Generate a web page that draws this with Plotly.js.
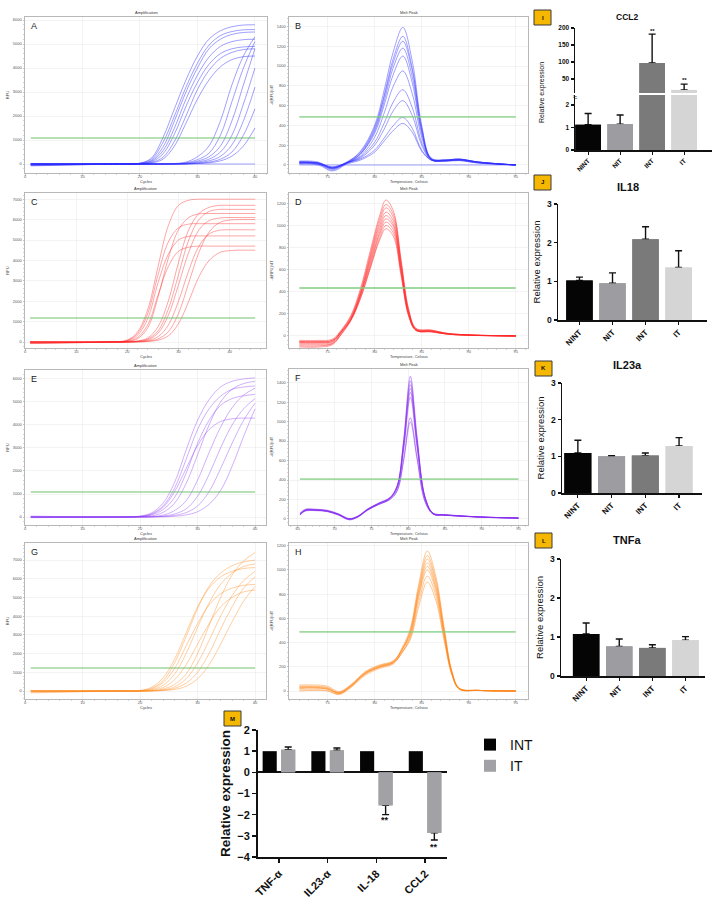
<!DOCTYPE html>
<html><head><meta charset="utf-8">
<script src="https://cdn.plot.ly/plotly-3.0.1.min.js"></script>
<style>html,body{margin:0;padding:0;background:#fff}#chart{width:719px;height:899px}</style>
</head><body><div id="chart"></div>
<script>
// ================= DATA =================
// A: amplification (blue)
const ampA_cycles = [1,16,20,22,24,26,28,30,32,34,36,38,40];
const ampA_rfu = [
 [-60,0,40,250,1100,2300,3500,4500,5200,5550,5720,5790,5800],
 [0,0,30,200,900,2000,3200,4200,4950,5350,5520,5590,5600],
 [-30,0,20,150,700,1800,3000,4000,4800,5200,5400,5480,5500],
 [0,0,20,120,550,1500,2700,3700,4450,4900,5100,5180,5200],
 [-80,0,10,90,420,1250,2400,3400,4150,4600,4800,4880,4900],
 [0,0,10,60,280,950,2000,3100,3900,4400,4650,4770,4800],
 [0,0,0,40,200,750,1700,2700,3500,4050,4350,4470,4500],
 [0,0,0,0,0,20,80,300,750,1800,3300,4500,5300],
 [0,0,0,0,0,10,50,180,450,1200,2600,4000,5100],
 [-50,0,0,0,0,0,30,120,300,750,1800,3300,4800],
 [0,0,0,0,0,0,20,80,200,500,1200,2500,4000],
 [0,0,0,0,0,0,10,50,130,320,800,1800,3200],
 [0,0,0,0,0,0,0,30,80,200,500,1200,2300],
 [0,0,0,0,0,0,0,20,50,130,330,750,1500],
 [0,0,0,0,0,0,0,0,0,0,0,0,0]
];
const ampA_threshold = 1083;

// B: melt peak (blue)
const meltB_temp = [72,74,75.5,77,78.5,80,81,82,83,84,85,86,87.5,89,91,95];
const meltB_drfu = [
 [20,10,-50,20,140,400,750,1150,1390,1050,400,70,50,60,30,0],
 [40,30,-30,30,130,380,700,1080,1300,980,380,70,50,60,30,0],
 [30,20,-40,20,120,360,680,1040,1250,950,360,60,50,60,30,0],
 [10,0,-60,10,110,340,640,990,1180,890,340,60,50,55,30,0],
 [30,20,-30,20,110,320,600,920,1100,830,320,60,45,55,30,0],
 [20,10,-40,20,90,280,520,800,950,720,280,55,45,55,25,0],
 [30,20,-20,20,80,230,420,640,760,580,230,55,40,50,25,0],
 [20,20,-30,20,70,200,360,550,650,500,200,50,40,50,25,0],
 [30,20,-20,20,60,150,270,400,480,370,150,50,40,45,20,0],
 [20,10,-30,10,50,130,240,350,420,330,140,50,40,45,20,0],
 [0,0,0,0,0,0,0,0,0,0,0,0,0,0,0,0]
];
const meltB_threshold = 485;

// C: amplification (red)
const ampC_cycles = [1,16,20,22,24,26,28,30,32,34,36,38,40,42,45];
const ampC_rfu = [
 [0,0,100,500,1600,3700,5700,6700,6950,7000,7000,7000,7000,7000,7000],
 [-50,0,80,420,1400,3300,4900,5600,5780,5800,5800,5800,5800,5800,5800],
 [0,0,60,330,1150,2900,4300,5000,5180,5200,5200,5200,5200,5200,5200],
 [-80,0,40,220,850,2300,3700,4450,4650,4700,4700,4700,4700,4700,4700],
 [0,0,30,160,700,2200,4100,5500,6100,6280,6300,6300,6300,6300,6300],
 [0,0,10,50,200,750,2000,3900,5500,6300,6600,6700,6700,6700,6700],
 [0,0,0,40,150,550,1600,3300,5000,6000,6400,6500,6500,6500,6500],
 [-60,0,0,30,110,430,1300,2800,4400,5500,5950,6080,6100,6100,6100],
 [0,0,0,20,70,260,820,2000,3500,4700,5300,5480,5500,5500,5500],
 [0,0,0,10,40,150,500,1400,2900,4400,5400,5850,5980,6000,6000],
 [0,0,0,0,25,90,300,900,2000,3200,4000,4380,4480,4500,4500]
];
const ampC_threshold = 1180;

// D: melt peak (red)
const meltD_temp = [72,74,75.5,76.5,77.5,78.5,79.5,80.5,81.2,82,82.8,83.6,84.4,86,88,95];
const meltD_drfu = [
 [-40,-40,-30,60,190,430,760,1080,1230,1130,700,250,70,55,20,0],
 [-60,-60,-50,50,180,410,730,1050,1190,1100,680,240,65,50,20,0],
 [-80,-80,-70,30,160,390,710,1020,1160,1070,660,230,60,50,20,0],
 [-50,-50,-40,50,170,390,690,990,1120,1040,640,220,60,45,20,0],
 [-100,-100,-80,20,150,370,670,960,1090,1010,620,210,55,45,15,0],
 [-70,-70,-60,40,160,370,650,930,1060,990,600,200,55,40,15,0],
 [-60,-60,-50,40,150,360,630,910,1030,960,590,200,50,40,15,0],
 [-90,-90,-70,20,140,340,610,880,1000,930,570,190,50,40,15,0],
 [-50,-50,-40,40,150,340,600,860,970,900,550,180,50,35,15,0]
];
const meltD_threshold = 434;

// E: amplification (purple)
const ampE_cycles = [1,16,20,22,24,26,28,30,32,34,36,38,40];
const ampE_rfu = [
 [40,0,40,180,600,1500,2900,4200,5100,5650,5900,6000,6050],
 [0,0,30,140,480,1250,2500,3800,4700,5250,5550,5650,5700],
 [-30,0,20,120,420,1100,2100,3100,3800,4150,4270,4300,4300],
 [0,0,20,90,320,850,1900,3200,4200,4850,5150,5270,5330],
 [0,0,10,50,200,600,1450,2700,4000,5000,5550,5800,5900],
 [0,0,0,20,80,280,700,1600,2800,3900,4750,5300,5600],
 [0,0,0,10,40,130,350,900,1850,3000,4000,4700,5150],
 [0,0,0,0,20,70,190,480,1100,2100,3200,4200,4950],
 [0,0,0,0,10,30,90,230,550,1150,2200,3500,4700]
];
const ampE_threshold = 1087;

// F: melt peak (purple)
const meltF_temp = [65.3,66,67.5,69,70.5,72,73.2,74.5,76,77.5,78.5,79.4,80.3,81.2,82.3,83.4,85,90,95];
const meltF_drfu = [
 [40,90,95,85,50,0,30,100,160,215,340,820,1466,860,230,60,45,20,10],
 [60,100,100,90,55,5,30,105,165,220,340,800,1420,830,220,60,45,20,10],
 [50,85,90,80,45,-5,25,95,155,210,330,780,1380,810,220,55,40,20,10],
 [45,95,95,85,50,0,30,100,160,215,330,760,1340,790,215,55,40,20,10],
 [55,90,92,82,48,0,28,98,158,212,320,740,1300,770,210,55,40,20,10],
 [40,80,85,75,40,-10,20,90,150,205,310,710,1250,740,200,50,40,18,8],
 [50,90,90,80,45,0,25,95,150,200,290,620,1040,640,180,50,40,18,8],
 [45,85,88,78,42,-5,22,92,148,198,285,600,995,620,175,50,38,18,8]
];
const meltF_threshold = 410;

// G: amplification (orange)
const ampG_cycles = [1,16,20,22,24,26,28,30,32,34,36,38,40];
const ampG_rfu = [
 [-100,0,30,200,700,1700,3100,4500,5500,6100,6400,6550,6600],
 [0,0,20,150,550,1500,2900,4400,5600,6300,6700,6900,7000],
 [-60,0,10,110,450,1200,2400,3600,4600,5200,5500,5650,5700],
 [0,0,0,70,300,900,2000,3400,4700,5700,6300,6650,6800],
 [0,0,0,40,180,600,1400,2500,3600,4500,5000,5300,5400],
 [0,0,0,20,100,350,900,2000,3500,5000,6200,6950,7400],
 [0,0,0,10,60,220,650,1500,2700,4000,5100,5900,6400],
 [0,0,0,0,40,140,420,1000,2000,3300,4500,5500,6100],
 [0,0,0,0,20,80,250,650,1400,2500,3700,4800,5600]
];
const ampG_threshold = 1230;

// H: melt peak (orange)
const meltH_temp = [72,73.5,75,76.2,77.5,79,80.5,82,83,83.8,84.7,85.6,86.5,87.4,88.2,89,91,95];
const meltH_drfu = [
 [30,30,20,-15,45,150,205,245,370,520,890,1157,950,520,170,25,5,0],
 [10,10,5,-25,35,140,195,235,355,500,860,1120,920,500,160,20,5,0],
 [40,40,30,-10,50,155,210,245,360,495,840,1090,900,490,160,20,5,0],
 [20,25,15,-20,40,145,200,240,350,480,820,1060,870,475,155,20,5,0],
 [50,50,40,-5,55,160,215,250,350,470,800,1030,850,465,150,20,5,0],
 [0,5,0,-30,30,130,185,225,330,455,780,1000,825,450,145,15,5,0],
 [25,25,15,-20,40,140,195,230,330,440,740,950,790,430,140,15,5,0],
 [35,35,25,-15,45,150,200,235,325,425,700,900,750,410,135,15,5,0]
];
const meltH_threshold = 488;

// Bar panels I-L
const groups = ['NINT','NIT','INT','IT'];
const ccl2_mean = [1.12, 1.15, 97, 18];
const ccl2_sd   = [0.50, 0.40, 85, 17];
const il18_mean = [1.02, 0.95, 2.09, 1.36];
const il18_sd   = [0.09, 0.27, 0.32, 0.43];
const il23a_mean = [1.09, 1.00, 1.02, 1.28];
const il23a_sd   = [0.35, 0.02, 0.07, 0.23];
const tnfa_mean = [1.08, 0.76, 0.72, 0.92];
const tnfa_sd   = [0.28, 0.19, 0.08, 0.09];

// Panel M
const genes = ['TNF-α','IL23-α','IL-18','CCL2'];
const int_expr = [1, 1, 1, 1];
const it_expr  = [1.07, 1.04, -1.56, -2.86];
const it_sd    = [0.13, 0.11, 0.44, 0.34];

// ================= BUILD =================
const W = 719, H = 899;
const X = p => p / W;
const Y = p => 1 - p / H;
const FONT = 'Arial, "Liberation Sans", sans-serif';
const NARROW = '"Liberation Sans Narrow", "Arial Narrow", Arial, "Liberation Sans", sans-serif';

const traces = [];
const layout = {
  width: W, height: H, margin: {l:0, r:0, t:0, b:0},
  paper_bgcolor: '#fff', plot_bgcolor: 'rgba(0,0,0,0)',
  font: {family: FONT, color: '#111'},
  barmode: 'overlay', hovermode: false, showlegend: true,
  legend: {x: X(470), y: Y(729), xanchor: 'left', yanchor: 'top',
           font: {size: 14, family: FONT, color: '#111'}, bgcolor: 'rgba(0,0,0,0)',
           itemwidth: 30, tracegroupgap: 2},
  annotations: [], shapes: []
};

function ann(text, px, py, opts) {
  layout.annotations.push(Object.assign({text, x: X(px), y: Y(py), xref: 'paper', yref: 'paper',
    showarrow: false, xanchor: 'center', yanchor: 'middle'}, opts || {}));
}
const axKey = (c, n) => n === 1 ? c + 'axis' : c + 'axis' + n;
const axRef = (c, n) => n === 1 ? c : c + n;

const qpcr = [
  {n:1, L:'A', kind:'amp',  xs:ampA_cycles, ys:ampA_rfu, thr:ampA_threshold, col:'rgba(45,45,255,0.5)',
   xd:[25,267], yd:[17,173], xr:[0,42.1], yr:[-375,6125], ydt:1000},
  {n:2, L:'B', kind:'melt', xs:meltB_temp, ys:meltB_drfu, thr:meltB_threshold, col:'rgba(45,45,255,0.5)',
   xd:[289,528], yd:[17,173], xr:[70.9,96.3], yr:[-81,1495], ydt:200},
  {n:3, L:'C', kind:'amp',  xs:ampC_cycles, ys:ampC_rfu, thr:ampC_threshold, col:'rgba(255,35,35,0.45)',
   xd:[25,266], yd:[193,348], xr:[0,47.1], yr:[-294,7304], ydt:1000},
  {n:4, L:'D', kind:'melt', xs:meltD_temp, ys:meltD_drfu, thr:meltD_threshold, col:'rgba(255,35,35,0.5)',
   xd:[289,528], yd:[193,348], xr:[70.9,96.3], yr:[-109,1294], ydt:200},
  {n:5, L:'E', kind:'amp',  xs:ampE_cycles, ys:ampE_rfu, thr:ampE_threshold, col:'rgba(140,60,245,0.45)',
   xd:[25,266], yd:[370,525], xr:[0,41.9], yr:[-348,6391], ydt:1000},
  {n:6, L:'F', kind:'melt', xs:meltF_temp, ys:meltF_drfu, thr:meltF_threshold, col:'rgba(130,40,240,0.5)',
   xd:[289,528], yd:[369,525], xr:[63.8,96.3], yr:[-62,1540], ydt:200},
  {n:7, L:'G', kind:'amp',  xs:ampG_cycles, ys:ampG_rfu, thr:ampG_threshold, col:'rgba(255,135,25,0.45)',
   xd:[25,266], yd:[543,699], xr:[0,41.9], yr:[-428,7914], ydt:1000},
  {n:8, L:'H', kind:'melt', xs:meltH_temp, ys:meltH_drfu, thr:meltH_threshold, col:'rgba(255,130,20,0.5)',
   xd:[289,528], yd:[543,699], xr:[70.9,96.3], yr:[-66,1223], ydt:200}
];

qpcr.forEach(p => {
  const amp = p.kind === 'amp';
  const common = {showline: true, mirror: true, linecolor: '#b8b8b8', linewidth: 1,
    ticks: 'outside', ticklen: 1.5, tickwidth: 0.6, tickcolor: '#999',
    tickfont: {size: 4, color: '#555', family: FONT}, showgrid: true, gridcolor: '#ebebeb', gridwidth: 0.6,
    zeroline: false};
  layout[axKey('x', p.n)] = Object.assign({}, common, {
    domain: [X(p.xd[0]), X(p.xd[1])], range: p.xr, anchor: axRef('y', p.n),
    tick0: 0, dtick: amp ? 10 : 5, ticklabelstandoff: -2,
    minor: {ticks: 'outside', ticklen: 1, tickwidth: 0.5, tickcolor: '#aaa', dtick: amp ? 2 : 1, showgrid: false}
  });
  layout[axKey('y', p.n)] = Object.assign({}, common, {
    domain: [Y(p.yd[1]), Y(p.yd[0])], range: p.yr, anchor: axRef('x', p.n),
    tick0: 0, dtick: p.ydt,
    minor: {ticks: 'outside', ticklen: 1, tickwidth: 0.5, tickcolor: '#aaa', dtick: p.ydt / 5, showgrid: false},
    title: {text: amp ? 'RFU' : '-d(RFU)/dT', font: {size: 4, color: '#444'}, standoff: 3}
  });
  p.ys.forEach(row => traces.push({
    type: 'scatter', mode: 'lines', x: p.xs, y: row,
    xaxis: axRef('x', p.n), yaxis: axRef('y', p.n),
    line: {color: p.col, width: 0.9, shape: 'spline', smoothing: 1},
    showlegend: false, hoverinfo: 'skip'
  }));
  traces.push({
    type: 'scatter', mode: 'lines', x: [p.xs[0], p.xs[p.xs.length - 1]], y: [p.thr, p.thr],
    xaxis: axRef('x', p.n), yaxis: axRef('y', p.n),
    line: {color: amp ? 'rgba(95,185,95,0.9)' : 'rgba(130,205,130,0.75)', width: amp ? 1.1 : 1.8},
    showlegend: false, hoverinfo: 'skip'
  });
  const cx = (p.xd[0] + p.xd[1]) / 2;
  ann(amp ? 'Amplification' : 'Melt Peak', cx, p.yd[0] - 4.5, {font: {size: 4, color: '#333'}});
  ann(amp ? 'Cycles' : 'Temperature, Celsius', cx, p.yd[1] + 8.5, {font: {size: 4, color: '#444'}});
  ann(p.L, p.xd[0] + 4, p.yd[0] + 2, {xanchor: 'left', yanchor: 'top', font: {size: 9, color: '#222'}});
});

// ---------- bar panels ----------
const barColors = ['#050505', '#9c9ca1', '#7a7a7a', '#d5d5d5'];
function badge(letter, x0, y0) {
  layout.shapes.push({type: 'rect', xref: 'paper', yref: 'paper', x0: X(x0), x1: X(x0 + 17),
    y0: Y(y0 + 15), y1: Y(y0), fillcolor: '#f6b700', line: {color: '#3a3a3a', width: 1}});
  ann(letter, x0 + 8.5, y0 + 7.5, {font: {size: 6, color: '#111', family: FONT, weight: 700}});
}
function barTraces(xa, ya, cats, means, errs, colors, opts) {
  const base = Object.assign({type: 'bar', x: cats, y: means, xaxis: xa, yaxis: ya,
    marker: {color: colors, line: {width: 0}}, showlegend: false, hoverinfo: 'skip'}, opts || {});
  traces.push(Object.assign({}, base, {
    error_y: {type: 'data', symmetric: false, array: errs.up, arrayminus: errs.down,
              color: '#111', thickness: 1.4, width: 3.5}
  }));
  traces.push(Object.assign({}, base));
}
const zeros = a => a.map(() => 0);
const catAxis = (dom, rng, anchor, fs) => ({
  type: 'category', domain: [X(dom[0]), X(dom[1])], range: rng, anchor: anchor,
  showline: true, linecolor: '#111', linewidth: 1.5, ticks: 'outside', ticklen: 3, tickwidth: 1.2,
  tickcolor: '#111', tickangle: -45, tickfont: {size: fs, family: NARROW, weight: 700, color: '#111'},
  showgrid: false, zeroline: false
});
const valAxis = (top, bottom, rng, anchor, tv, fs, title) => ({
  domain: [Y(bottom), Y(top)], range: rng, anchor: anchor, tickvals: tv,
  showline: true, linecolor: '#111', linewidth: 1.5, ticks: 'outside', ticklen: 3, tickwidth: 1.2,
  tickcolor: '#111', tickfont: {size: fs, family: NARROW, weight: 700, color: '#111'},
  showgrid: false, zeroline: false,
  title: title ? {text: title, font: {size: 9.5, family: FONT, color: '#111'}, standoff: 4} : undefined
});

// I: CCL2 (broken axis)
layout.xaxis9 = catAxis([575, 712], [-0.41, 3.87], 'y9', 6.5);
layout.yaxis9 = valAxis(95, 150, [0, 2.44], 'x9', [0, 1, 2], 6.5);
layout.yaxis10 = valAxis(28, 93, [9, 200], 'x9', [50, 100, 150, 200], 6.5);
barTraces('x9', 'y9', groups, ccl2_mean,
  {up: ccl2_sd.map((s, i) => ccl2_mean[i] < 2.44 ? s : NaN), down: zeros(ccl2_sd)}, barColors);
barTraces('x9', 'y10', groups, ccl2_mean,
  {up: ccl2_sd.map((s, i) => ccl2_mean[i] > 9 ? s : NaN), down: zeros(ccl2_sd)}, barColors);
ann('Relative expression', 542, 93, {textangle: -90, font: {size: 7, color: '#111'}});
ann('//', 575, 97, {textangle: -90, font: {size: 6, color: '#111'}});
ann('CCL2', 627, 17, {font: {size: 8.5, family: FONT, weight: 700, color: '#111'}});
ann('**', 652, 31, {font: {size: 6, weight: 700, color: '#111'}});
ann('**', 684, 80, {font: {size: 6, weight: 700, color: '#111'}});
badge('I', 534, 10);

// J: IL18
layout.xaxis10 = catAxis([558, 707], [-0.65, 3.86], 'y11', 8);
layout.yaxis11 = valAxis(204, 320, [0, 3], 'x10', [0, 1, 2, 3], 8.5, 'Relative expression');
barTraces('x10', 'y11', groups, il18_mean, {up: il18_sd, down: zeros(il18_sd)}, barColors);
ann('IL18', 628, 187, {font: {size: 11, family: NARROW, weight: 700, color: '#111'}});
badge('J', 534, 175);

// K: IL23a
layout.xaxis11 = catAxis([562, 702], [-0.47, 3.68], 'y12', 8);
layout.yaxis12 = valAxis(383, 493, [0, 3], 'x11', [0, 1, 2, 3], 8.5, 'Relative expression');
barTraces('x11', 'y12', groups, il23a_mean, {up: il23a_sd, down: zeros(il23a_sd)}, barColors);
ann('IL23a', 627, 365, {font: {size: 11, family: NARROW, weight: 700, color: '#111'}});
badge('K', 535, 361);

// L: TNFa
layout.xaxis12 = catAxis([561, 705], [-0.76, 3.59], 'y13', 8);
layout.yaxis13 = valAxis(559, 676, [0, 3], 'x12', [0, 1, 2, 3], 8.5, 'Relative expression');
barTraces('x12', 'y13', groups, tnfa_mean, {up: tnfa_sd, down: zeros(tnfa_sd)}, barColors);
ann('TNFa', 627, 540, {font: {size: 11, family: NARROW, weight: 700, color: '#111'}});
badge('L', 535, 533);

// M: INT vs IT
layout.xaxis13 = Object.assign(catAxis([258, 447], [-0.43, 3.45], 'y14', 11), {tickwidth: 1.5, ticklen: 4, linewidth: 2});
layout.yaxis14 = Object.assign(valAxis(730, 857, [-4, 2], 'x13', [-4, -3, -2, -1, 0, 1, 2], 11), {
  zeroline: true, zerolinecolor: '#111', zerolinewidth: 2, linewidth: 2, tickwidth: 1.5, ticklen: 4,
  title: {text: 'Relative expression', font: {size: 13.5, family: NARROW, weight: 700, color: '#111'}, standoff: 4}
});
traces.push({type: 'bar', name: 'INT', x: genes, y: int_expr, xaxis: 'x13', yaxis: 'y14',
  width: 0.29, offset: -0.335, marker: {color: '#050505'}, showlegend: true, hoverinfo: 'skip'});
barTraces('x13', 'y14', genes, it_expr,
  {up: it_sd.map((s, i) => it_expr[i] >= 0 ? s : 0), down: it_sd.map((s, i) => it_expr[i] < 0 ? s : 0)},
  '#a2a2a6', {width: 0.29, offset: 0.045});
traces[traces.length - 1].showlegend = true;
traces[traces.length - 1].name = 'IT';
ann('**', 385, 820, {font: {size: 9, weight: 700, color: '#111'}});
ann('**', 434, 847, {font: {size: 9, weight: 700, color: '#111'}});
badge('M', 224, 711);

Plotly.newPlot('chart', traces, layout, {staticPlot: true, displayModeBar: false});
</script>
</body></html>
